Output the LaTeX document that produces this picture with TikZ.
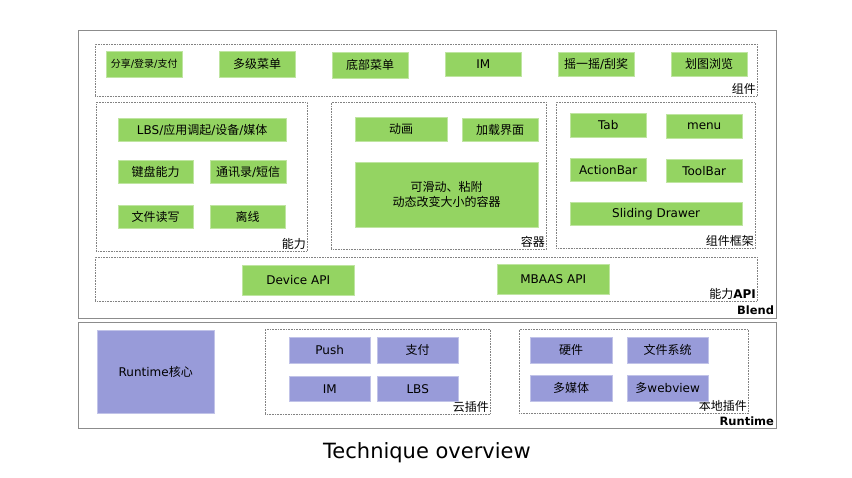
\documentclass[tikz,border=0pt]{standalone}
\usepackage{fontspec}
\setmainfont{Noto Sans CJK SC}
\newfontfamily\lat{DejaVu Sans}
\definecolor{gfill}{RGB}{148,212,98}
\definecolor{pfill}{RGB}{152,155,217}
\definecolor{outer}{RGB}{140,140,140}
\definecolor{dash}{RGB}{130,130,130}
\tikzset{
  gbox/.style={fill=gfill, draw=gfill!60!white, line width=0.4pt, inner sep=0pt, anchor=north west, font=\fontsize{12}{13}\selectfont, align=center},
  pbox/.style={fill=pfill, draw=pfill!60!white, line width=0.4pt, inner sep=0pt, anchor=north west, font=\fontsize{12}{13}\selectfont, align=center},
  dbox/.style={draw=dash, line width=0.6pt, dash pattern=on 0.8pt off 0.8pt, inner sep=0pt, anchor=north west},
  obox/.style={draw=outer, line width=1.2pt, inner sep=0pt, anchor=north west},
  lab/.style={anchor=south east, inner sep=1.5pt, font=\fontsize{12}{13}\selectfont},
  blab/.style={anchor=south east, inner sep=3pt, font=\fontsize{11.5}{13}\selectfont\lat\bfseries},
}
\begin{document}
\begin{tikzpicture}[x=1pt,y=-1pt]
\useasboundingbox (0,0) rectangle (852,478);
% outer boxes
\node[obox, minimum width=698, minimum height=288] (blend) at (78,30) {};
\node[blab] at ([yshift=1.5pt]blend.south east) {Blend};
\node[obox, minimum width=698, minimum height=106] (runtime) at (78,322) {};
\node[blab] at (runtime.south east) {Runtime};
% components
\node[dbox, minimum width=662, minimum height=52] (zj) at (95,44) {};
\node[lab] at (zj.south east) {组件};
\node[gbox, minimum width=76, minimum height=26, font=\fontsize{10}{11}\selectfont] (c1) at (106,51) {分享{\lat/}登录{\lat/}支付};
\node[gbox, minimum width=76, minimum height=26] (c2) at (219,51) {多级菜单};
\node[gbox, minimum width=76, minimum height=26] (c3) at (332,52) {底部菜单};
\node[gbox, minimum width=76, minimum height=24] (c4) at (445,52) {\lat IM};
\node[gbox, minimum width=76, minimum height=24] (c5) at (558,52) {摇一摇{\lat/}刮奖};
\node[gbox, minimum width=76, minimum height=24] (c6) at (671,52) {划图浏览};
% ability
\node[dbox, minimum width=211, minimum height=149] (nl) at (96,102) {};
\node[lab] at (nl.south east) {能力};
\node[gbox, minimum width=168, minimum height=23] (a1) at (118,118) {{\lat LBS/}应用调起{\lat/}设备{\lat/}媒体};
\node[gbox, minimum width=75, minimum height=23] (a2) at (118,160) {键盘能力};
\node[gbox, minimum width=76, minimum height=23] (a3) at (210,160) {通讯录{\lat/}短信};
\node[gbox, minimum width=75, minimum height=23] (a4) at (118,205) {文件读写};
\node[gbox, minimum width=75, minimum height=23] (a5) at (210,205) {离线};
% container
\node[dbox, minimum width=215, minimum height=147] (rq) at (331,102) {};
\node[lab] at (rq.south east) {容器};
\node[gbox, minimum width=92, minimum height=24] (r1) at (355,117) {动画};
\node[gbox, minimum width=76, minimum height=23] (r2) at (462,118) {加载界面};
\node[gbox, minimum width=183, minimum height=65, font=\fontsize{12}{15}\selectfont] (r3) at (355,162) {可滑动、粘附\\动态改变大小的容器};
% framework
\node[dbox, minimum width=199, minimum height=146] (kj) at (556,102) {};
\node[lab] at (kj.south east) {组件框架};
\node[gbox, minimum width=76, minimum height=24] (f1) at (570,113) {\lat Tab};
\node[gbox, minimum width=76, minimum height=24] (f2) at (666,114) {\lat menu};
\node[gbox, minimum width=76, minimum height=23] (f3) at (570,158) {\lat ActionBar};
\node[gbox, minimum width=76, minimum height=23] (f4) at (666,159) {\lat ToolBar};
\node[gbox, minimum width=172, minimum height=23] (f5) at (570,202) {\lat Sliding Drawer};
% ability API
\node[dbox, minimum width=662, minimum height=44] (api) at (95,257) {};
\node[lab] at (api.south east) {能力{\lat\bfseries API}};
\node[gbox, minimum width=112, minimum height=30] (d1) at (242,265) {\lat Device API};
\node[gbox, minimum width=112, minimum height=30] (d2) at (497,264) {\lat MBAAS API};
% runtime
\node[pbox, minimum width=117, minimum height=83] (core) at (97,330) {{\lat Runtime}核心};
\node[dbox, minimum width=225, minimum height=85] (cloud) at (265,329) {};
\node[lab] at (cloud.south east) {云插件};
\node[pbox, minimum width=81, minimum height=26] (p1) at (289,337) {\lat Push};
\node[pbox, minimum width=81, minimum height=26] (p2) at (377,337) {支付};
\node[pbox, minimum width=81, minimum height=25] (p3) at (289,376) {\lat IM};
\node[pbox, minimum width=81, minimum height=25] (p4) at (377,376) {\lat LBS};
\node[dbox, minimum width=229, minimum height=84] (local) at (519,329) {};
\node[lab] at (local.south east) {本地插件};
\node[pbox, minimum width=82, minimum height=26] (l1) at (530,337) {硬件};
\node[pbox, minimum width=81, minimum height=26] (l2) at (627,337) {文件系统};
\node[pbox, minimum width=82, minimum height=26] (l3) at (530,375) {多媒体};
\node[pbox, minimum width=81, minimum height=26] (l4) at (627,375) {多{\lat webview}};
% title
\node[font=\fontsize{21}{24}\selectfont\lat] (title) at (427,453) {Technique overview};
\end{tikzpicture}
\end{document}
